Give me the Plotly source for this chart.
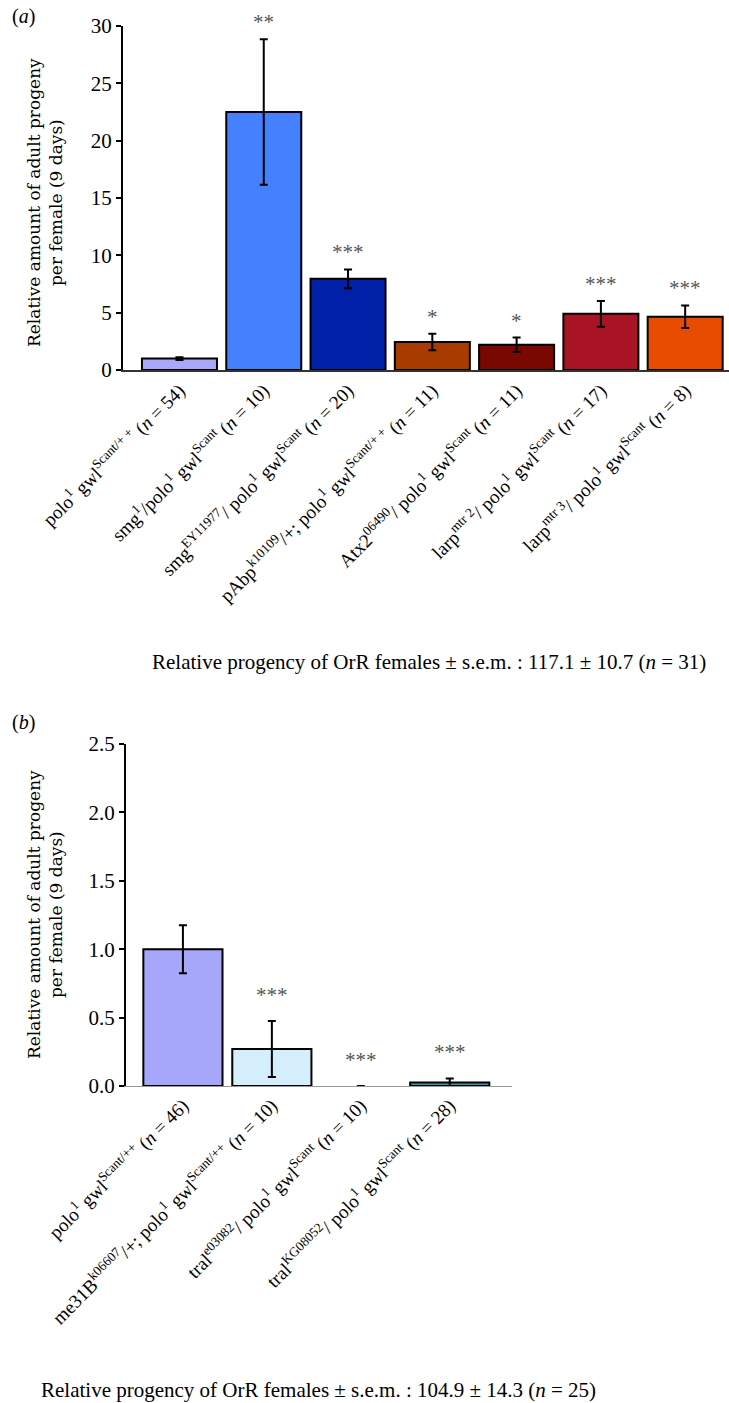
import plotly.graph_objects as go

W, H = 729, 1403

# ---------------- Panel (a) data ----------------
labels_a = [
    "polo<sup>1</sup> gwl<sup>Scant/+ +</sup> (<i>n</i> = 54)",
    "smg<sup>1</sup>/polo<sup>1</sup> gwl<sup>Scant</sup> (<i>n</i> = 10)",
    "smg<sup>EY11977</sup>/ polo<sup>1</sup> gwl<sup>Scant</sup> (<i>n</i> = 20)",
    "pAbp<sup>k10109</sup>/+; polo<sup>1</sup> gwl<sup>Scant/+ +</sup> (<i>n</i> = 11)",
    "Atx2<sup>06490</sup>/ polo<sup>1</sup> gwl<sup>Scant</sup> (<i>n</i> = 11)",
    "larp<sup>mtr 2</sup>/ polo<sup>1</sup> gwl<sup>Scant</sup> (<i>n</i> = 17)",
    "larp<sup>mtr 3</sup>/ polo<sup>1</sup> gwl<sup>Scant</sup> (<i>n</i> = 8)",
]
values_a = [1.0, 22.5, 7.95, 2.45, 2.2, 4.9, 4.65]
errors_a = [0.12, 6.35, 0.82, 0.72, 0.63, 1.12, 0.98]
colors_a = ["#a8a8fa", "#4580ff", "#0020a8", "#a83c00", "#780800", "#a81424", "#e84c00"]
sig_a = ["", "**", "***", "*", "*", "***", "***"]
yticks_a = [0, 5, 10, 15, 20, 25, 30]

# ---------------- Panel (b) data ----------------
labels_b = [
    "polo<sup>1</sup> gwl<sup>Scant/++</sup> (<i>n</i> = 46)",
    "me31B<sup>k06607</sup>/+; polo<sup>1</sup> gwl<sup>Scant/++</sup> (<i>n</i> = 10)",
    "tral<sup>e03082</sup>/ polo<sup>1</sup> gwl<sup>Scant</sup> (<i>n</i> = 10)",
    "tral<sup>KG08052</sup>/ polo<sup>1</sup> gwl<sup>Scant</sup> (<i>n</i> = 28)",
]
values_b = [1.0, 0.27, 0.0, 0.025]
errors_b = [0.175, 0.205, 0.0, 0.03]
colors_b = ["#a6a6fa", "#d4eefc", "#d4eefc", "#3a9aa8"]
sig_b = ["", "***", "***", "***"]
yticks_b = [0.0, 0.5, 1.0, 1.5, 2.0, 2.5]
yticktext_b = ["0.0", "0.5", "1.0", "1.5", "2.0", "2.5"]

note_a = "Relative progency of OrR females ± s.e.m. : 117.1 ± 10.7 (<i>n</i> = 31)"
note_b = "Relative progency of OrR females ± s.e.m. : 104.9 ± 14.3 (<i>n</i> = 25)"
ytitle = "Relative amount of adult progeny<br>per female (9 days)"

SERIF = "Liberation Serif, Times New Roman, serif"
TITLEFONT = "DejaVu Serif, serif"

def px_y(p):
    return 1 - p / H

def px_x(p):
    return p / W

fig = go.Figure()

xa = list(range(len(values_a)))
xb = list(range(len(values_b)))

# zero-height bars draw no outline
outline_b = ["black" if v > 0 else "rgba(0,0,0,0)" for v in values_b]

fig.add_trace(go.Bar(
    x=xa, y=values_a, marker=dict(color=colors_a, line=dict(color="black", width=2)),
    error_y=dict(type="data", array=errors_a, color="black", thickness=2, width=4),
    xaxis="x", yaxis="y", showlegend=False, hoverinfo="skip"))

fig.add_trace(go.Bar(
    x=xb, y=values_b, marker=dict(color=colors_b, line=dict(color=outline_b, width=2)),
    error_y=dict(type="data", array=errors_b, color="black", thickness=2, width=4),
    xaxis="x2", yaxis="y2", showlegend=False, hoverinfo="skip"))

# significance stars
for i, s in enumerate(sig_a):
    if s:
        fig.add_annotation(x=i, y=values_a[i] + errors_a[i], xref="x", yref="y",
                           text=s, showarrow=False, yanchor="bottom", yshift=3,
                           font=dict(family=SERIF, size=21, color="#555555"))
for i, s in enumerate(sig_b):
    if s:
        fig.add_annotation(x=i, y=values_b[i] + errors_b[i], xref="x2", yref="y2",
                           text=s, showarrow=False, yanchor="bottom", yshift=12,
                           font=dict(family=SERIF, size=21, color="#555555"))

tickfont = dict(family=SERIF, size=21, color="black")
labfont = dict(family=SERIF, size=19, color="black")

fig.update_layout(
    width=W, height=H, margin=dict(l=0, r=0, t=0, b=0),
    template="none", plot_bgcolor="white", paper_bgcolor="white",
    bargap=0.11,
    xaxis=dict(domain=[px_x(123), 1.0], range=[-0.67, 6.52], anchor="y",
               tickmode="array", tickvals=xa, ticktext=labels_a, tickangle=-45,
               tickfont=labfont, showline=True, linecolor="#333333", linewidth=2,
               ticks="", showgrid=False, zeroline=False, automargin=False),
    yaxis=dict(domain=[px_y(370), px_y(26)], range=[0, 30], anchor="x",
               tickmode="array", tickvals=yticks_a, tickfont=tickfont,
               showline=True, linecolor="black", linewidth=2, ticks="outside",
               ticklen=5, tickwidth=2, tickcolor="black", showgrid=False,
               zeroline=False, automargin=False),
    xaxis2=dict(domain=[px_x(126), px_x(512)], range=[-0.64, 3.7], anchor="y2",
                tickmode="array", tickvals=xb, ticktext=labels_b, tickangle=-45,
                tickfont=labfont, showline=True, linecolor="#999999", linewidth=1,
                ticks="", showgrid=False, zeroline=False, automargin=False),
    yaxis2=dict(domain=[px_y(1086), px_y(744)], range=[0, 2.5], anchor="x2",
                tickmode="array", tickvals=yticks_b, ticktext=yticktext_b, tickfont=tickfont,
                showline=True, linecolor="black", linewidth=2, ticks="outside",
                ticklen=5, tickwidth=2, tickcolor="black", showgrid=False,
                zeroline=False, automargin=False),
)

# y-axis titles
fig.add_annotation(x=px_x(45), y=px_y(203), xref="paper", yref="paper", text=ytitle,
                   textangle=-90, showarrow=False, xanchor="center", yanchor="middle",
                   font=dict(family=TITLEFONT, size=17, color="black"))
fig.add_annotation(x=px_x(45), y=px_y(915), xref="paper", yref="paper", text=ytitle,
                   textangle=-90, showarrow=False, xanchor="center", yanchor="middle",
                   font=dict(family=TITLEFONT, size=17, color="black"))

# panel letters
fig.add_annotation(x=px_x(10), y=px_y(17), xref="paper", yref="paper", text="(<i>a</i>)",
                   showarrow=False, xanchor="left", yanchor="middle",
                   font=dict(family=SERIF, size=20, color="black"))
fig.add_annotation(x=px_x(10), y=px_y(722), xref="paper", yref="paper", text="(<i>b</i>)",
                   showarrow=False, xanchor="left", yanchor="middle",
                   font=dict(family=SERIF, size=20, color="black"))

# footnotes
fig.add_annotation(x=px_x(429), y=px_y(662), xref="paper", yref="paper", text=note_a,
                   showarrow=False, xanchor="center", yanchor="middle",
                   font=dict(family=SERIF, size=21, color="black"))
fig.add_annotation(x=px_x(318), y=px_y(1390), xref="paper", yref="paper", text=note_b,
                   showarrow=False, xanchor="center", yanchor="middle",
                   font=dict(family=SERIF, size=21, color="black"))

fig.write_html("out.html", config={"displayModeBar": False},
               post_script="document.body.style.margin='0';document.body.style.padding='0';")
